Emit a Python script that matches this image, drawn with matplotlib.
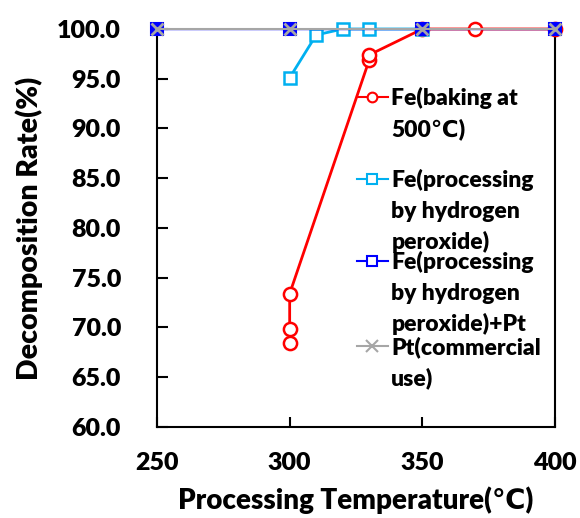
import matplotlib
matplotlib.use("Agg")
import matplotlib.pyplot as plt
from matplotlib.lines import Line2D

# ---- data ----
temps_fe500 = [300, 300, 300, 330, 330, 350, 370, 400]
rate_fe500 = [68.4, 69.8, 73.4, 96.9, 97.4, 100.0, 100.0, 100.0]

temps_h2o2 = [300, 310, 320, 330, 350]
rate_h2o2 = [95.1, 99.4, 100.0, 100.0, 100.0]

temps_h2o2_pt = [250, 300, 350, 400]
rate_h2o2_pt = [100.0, 100.0, 100.0, 100.0]

temps_pt = [250, 300, 350, 400]
rate_pt = [100.0, 100.0, 100.0, 100.0]

legend_rows = [
    ["Fe(baking at", "500℃)"],
    ["Fe(processing", "by hydrogen", "peroxide)"],
    ["Fe(processing", "by hydrogen", "peroxide)+Pt"],
    ["Pt(commercial", "use)"],
]

x_ticks = [250, 300, 350, 400]
y_ticks = [60, 65, 70, 75, 80, 85, 90, 95, 100]

plt.rcParams['font.family'] = ['Lato', 'DejaVu Sans']
W = 'heavy'

fig = plt.figure(figsize=(5.8, 5.18), dpi=100)
ax = fig.add_axes([157 / 580, 1 - 427 / 518, 398 / 580, 398 / 518])

RED = '#FF0000'
CYAN = '#00B0F0'
BLUE = '#0000FF'
GRAY = '#A6A6A6'

ax.plot(temps_fe500, rate_fe500, color=RED, lw=2, marker='o', ms=9.5,
        mfc='white', mec=RED, mew=1.8, zorder=3)
ax.plot(temps_h2o2, rate_h2o2, color=CYAN, lw=2, marker='s', ms=8.5,
        mfc='white', mec=CYAN, mew=1.8, zorder=4)
ax.plot(temps_h2o2_pt, rate_h2o2_pt, color=BLUE, lw=1, marker='s', ms=8,
        mfc=BLUE, mec=BLUE, mew=1.5, zorder=5)
ax.plot(temps_pt, rate_pt, color=GRAY, lw=1.5, marker='x', ms=9,
        mec=GRAY, mew=2, zorder=6)

ax.set_xlim(250, 400)
ax.set_ylim(60, 100)
ax.set_xticks(x_ticks)
ax.set_yticks(y_ticks)
ax.set_yticklabels(["%.1f" % v for v in y_ticks])

for side in ['left', 'bottom', 'right']:
    ax.spines[side].set_linewidth(1.5)
ax.spines['top'].set_visible(False)
ax.tick_params(axis='y', direction='in', length=8, width=1.5, pad=26,
               labelsize=18)
ax.tick_params(axis='x', direction='in', length=7, width=1.5, pad=18,
               labelsize=18)
for lbl in ax.get_xticklabels() + ax.get_yticklabels():
    lbl.set_fontweight(W)
for ln in ax.lines:
    ln.set_clip_on(False)

ax.set_ylabel("Decomposition Rate(%)", fontsize=20.5, fontweight=W,
              labelpad=10)
ax.set_xlabel("Processing Temperature(℃)", fontsize=20, fontweight=W,
              labelpad=9)

# legend: one small legend per series, first row carries the marker
styles = [
    dict(color=RED, marker='o', mfc='white', mec=RED, ms=7, mew=1.5, lw=1.5),
    dict(color=CYAN, marker='s', mfc='white', mec=CYAN, ms=7, mew=1.5, lw=1.5),
    dict(color=BLUE, marker='s', mfc='white', mec=BLUE, ms=7, mew=1.5, lw=1.5),
    dict(color=GRAY, marker='x', mec=GRAY, ms=8, mew=1.5, lw=1.5),
]
tops = [87, 169, 251, 336]
for rows, st, top in zip(legend_rows, styles, tops):
    handles = [Line2D([], [], **st)]
    handles += [Line2D([], [], lw=0, marker=None) for _ in rows[1:]]
    leg = fig.legend(handles, rows, loc='upper left',
                     bbox_to_anchor=(357 / 580, 1 - top / 518),
                     frameon=False, fontsize=16.5, borderpad=0,
                     handlelength=1.35, handletextpad=0.15,
                     labelspacing=0.42, borderaxespad=0)
    for t in leg.get_texts():
        t.set_fontweight(W)

fig.savefig("out.png", dpi=100)
